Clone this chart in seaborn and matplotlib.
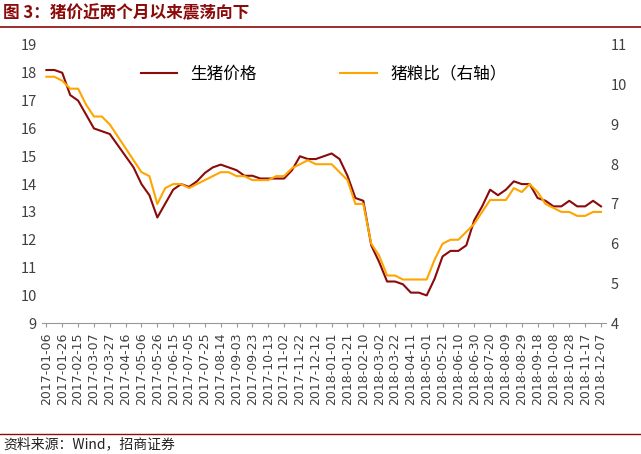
import matplotlib
matplotlib.use("Agg")
import matplotlib.pyplot as plt
import seaborn as sns
import pandas as pd
import numpy as np

plt.rcParams["font.family"] = ["Noto Sans CJK SC"]

tick_labels = ["2017-01-06","2017-01-26","2017-02-15","2017-03-07","2017-03-27","2017-04-16","2017-05-06","2017-05-26","2017-06-15","2017-07-05","2017-07-25","2017-08-14","2017-09-03","2017-09-23","2017-10-13","2017-11-02","2017-11-22","2017-12-12","2018-01-01","2018-01-21","2018-02-10","2018-03-02","2018-03-22","2018-04-11","2018-05-01","2018-05-21","2018-06-10","2018-06-30","2018-07-20","2018-08-09","2018-08-29","2018-09-18","2018-10-08","2018-10-28","2018-11-17","2018-12-07"]
pig_price = [18.1,18.1,18.0,17.2,17.0,16.5,16.0,15.9,15.8,15.4,15.0,14.6,14.0,13.6,12.8,13.3,13.8,14.0,13.9,14.1,14.4,14.6,14.7,14.6,14.5,14.3,14.3,14.2,14.2,14.2,14.2,14.5,15.0,14.9,14.9,15.0,15.1,14.9,14.3,13.5,13.4,11.8,11.2,10.5,10.5,10.4,10.1,10.1,10.0,10.6,11.4,11.6,11.6,11.8,12.7,13.2,13.8,13.6,13.8,14.1,14.0,14.0,13.5,13.4,13.2,13.2,13.4,13.2,13.2,13.4,13.2]
pig_grain = [10.2,10.2,10.1,9.9,9.9,9.5,9.2,9.2,9.0,8.7,8.4,8.1,7.8,7.7,7.0,7.4,7.5,7.5,7.4,7.5,7.6,7.7,7.8,7.8,7.7,7.7,7.6,7.6,7.6,7.7,7.7,7.9,8.0,8.1,8.0,8.0,8.0,7.8,7.6,7.0,7.0,6.0,5.7,5.2,5.2,5.1,5.1,5.1,5.1,5.6,6.0,6.1,6.1,6.3,6.5,6.8,7.1,7.1,7.1,7.4,7.3,7.5,7.3,7.0,6.9,6.8,6.8,6.7,6.7,6.8,6.8]

df = pd.DataFrame({"pos": np.arange(len(pig_price)) / 2.0, "price": pig_price, "ratio": pig_grain})

fig = plt.figure(figsize=(6.41, 4.54), dpi=100)
ax = fig.add_axes([0.065, 0.288, 0.88, 0.613])
sns.lineplot(data=df, x="pos", y="price", ax=ax, color="#8B0A0A", lw=1.5, label="生猪价格", legend=False)
ax2 = ax.twinx()
sns.lineplot(data=df, x="pos", y="ratio", ax=ax2, color="#FFA500", lw=1.5, label="猪粮比（右轴）", legend=False)

ax.set_ylim(9, 19); ax.set_yticks(range(9, 20))
ax2.set_ylim(4, 11); ax2.set_yticks(range(4, 12))
ax.set_xlim(-0.3, 35.3)
ax.set_xticks(range(len(tick_labels)))
ax.set_xticklabels(tick_labels, rotation=90, fontsize=9, fontfamily="DejaVu Sans", color="#404040")
for a in (ax, ax2):
    a.set_xlabel(""); a.set_ylabel("")
    a.tick_params(axis="y", length=0, labelsize=10.5, colors="#404040")
    for s in a.spines.values():
        s.set_visible(False)
ax.spines["bottom"].set_visible(True); ax.spines["bottom"].set_color("#999999")
ax.tick_params(axis="x", length=3, color="#999999")

h1, l1 = ax.get_legend_handles_labels()
h2, l2 = ax2.get_legend_handles_labels()
ax.legend(h1 + h2, l1 + l2, loc="upper center", bbox_to_anchor=(0.5, 0.98), ncol=2, frameon=False, fontsize=12, columnspacing=5, handlelength=2.2)

fig.text(0.005, 0.972, "图 3：猪价近两个月以来震荡向下", color="#8B0A0A", fontsize=12, fontweight="bold", va="center")
fig.add_artist(plt.Line2D([0, 1], [0.94, 0.94], color="#8B0A0A", lw=1.2))
fig.add_artist(plt.Line2D([0, 1], [0.045, 0.045], color="#8B0A0A", lw=1.0))
fig.text(0.005, 0.022, "资料来源：Wind，招商证券", fontsize=10, va="center", color="#222222")
fig.savefig("out.png", dpi=100)
